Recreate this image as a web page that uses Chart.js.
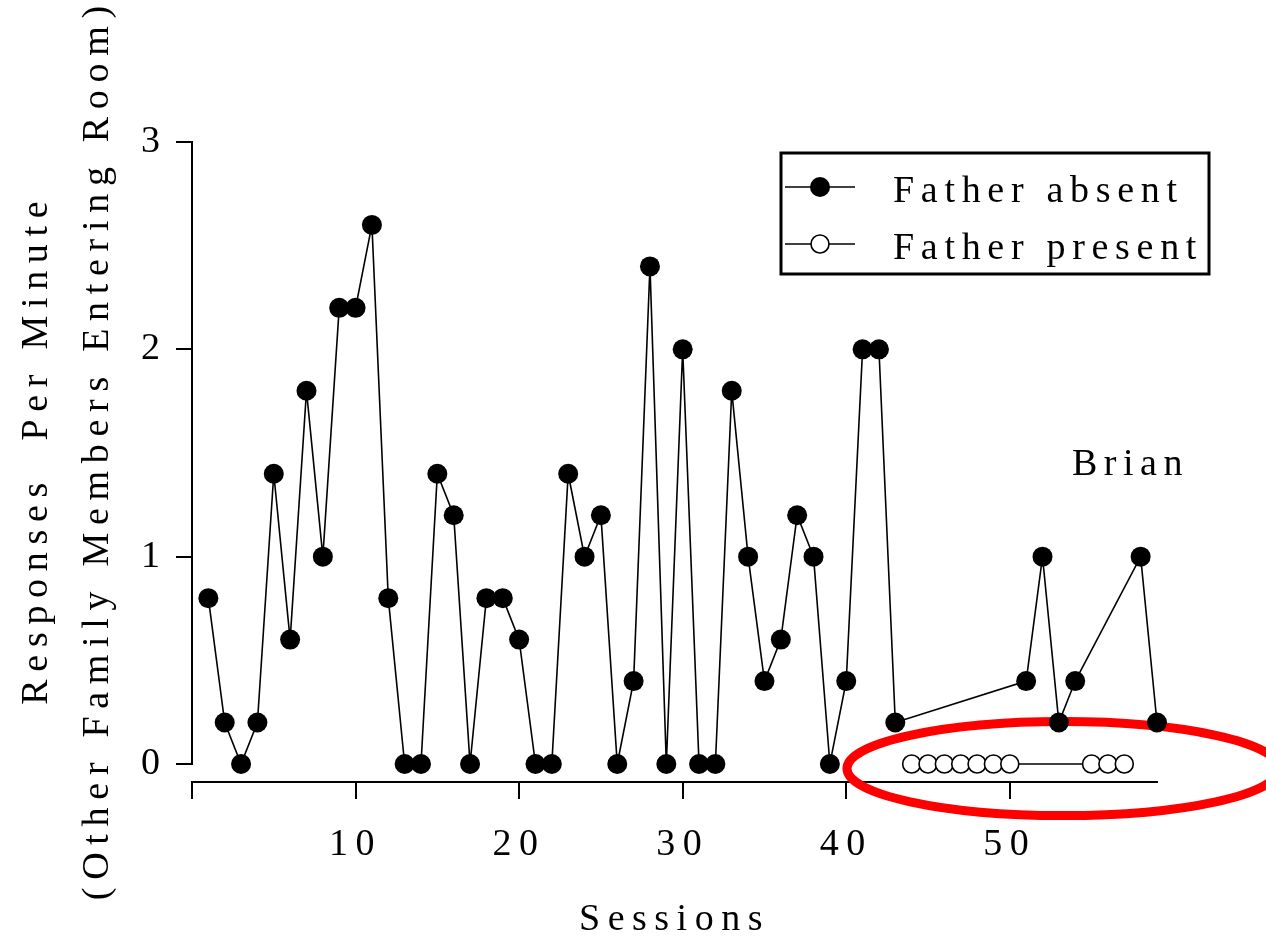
<!DOCTYPE html>
<html>
<head>
<meta charset="utf-8">
<script src="https://cdn.jsdelivr.net/npm/chart.js@4.4.1/dist/chart.umd.min.js"></script>
<style>
  html, body { margin: 0; padding: 0; background: #ffffff; }
  canvas { display: block; }
</style>
</head>
<body>
<canvas id="chart" width="1266" height="941"></canvas>
<script>
// Session numbers and response rates, one pair of arrays per condition
const absentSessions = [1, 2, 3, 4, 5, 6, 7, 8, 9, 10,
  11, 12, 13, 14, 15, 16, 17, 18, 19, 20,
  21, 22, 23, 24, 25, 26, 27, 28, 29, 30,
  31, 32, 33, 34, 35, 36, 37, 38, 39, 40,
  41, 42, 43, 51, 52, 53, 54, 58, 59];
const absentValues = [0.8, 0.2, 0, 0.2, 1.4, 0.6, 1.8, 1.0, 2.2, 2.2,
  2.6, 0.8, 0, 0, 1.4, 1.2, 0, 0.8, 0.8, 0.6,
  0, 0, 1.4, 1.0, 1.2, 0, 0.4, 2.4, 0, 2.0,
  0, 0, 1.8, 1.0, 0.4, 0.6, 1.2, 1.0, 0, 0.4,
  2.0, 2.0, 0.2, 0.4, 1.0, 0.2, 0.4, 1.0, 0.2];
const presentSessions = [44, 45, 46, 47, 48, 49, 50, 55, 56, 57];
const presentValues = [0, 0, 0, 0, 0, 0, 0, 0, 0, 0];

const seriesLabels = ['Father absent', 'Father present'];
const xTickValues = [0, 10, 20, 30, 40, 50];
const yTickValues = [0, 1, 2, 3];
const xTitle = 'Sessions';
const yTitleLines = ['Responses  Per Minute', '(Other Family Members Entering Room)'];
const subjectName = 'Brian';

const FAMILY = '"Liberation Serif", "Times New Roman", serif';
const FONT_SIZE = 38;
const SPACING = 7.5;

function toPoints(xs, ys) {
  return xs.map((x, i) => ({ x: x, y: ys[i] }));
}

// Width of a string as drawn with letter spacing (without the trailing gap)
function spacedWidth(ctx, text, spacing) {
  ctx.letterSpacing = '0px';
  const w = ctx.measureText(text).width + spacing * (text.length - 1);
  ctx.letterSpacing = spacing + 'px';
  return w;
}

function drawSpacedText(ctx, text, x, y, align, spacing) {
  const sp = spacing === undefined ? SPACING : spacing;
  ctx.save();
  ctx.font = FONT_SIZE + 'px ' + FAMILY;
  const w = spacedWidth(ctx, text, sp);
  ctx.letterSpacing = sp + 'px';
  ctx.textAlign = 'left';
  ctx.textBaseline = 'alphabetic';
  ctx.fillStyle = '#000';
  let sx = x;
  if (align === 'center') sx = x - w / 2;
  ctx.fillText(text, sx, y);
  ctx.restore();
}

const decorations = {
  id: 'decorations',
  beforeDraw(chart) {
    chart.ctx.letterSpacing = SPACING + 'px';
  },
  beforeDatasetsDraw(chart) {
    const ctx = chart.ctx;
    const xs = chart.scales.x, ys = chart.scales.y;
    // vertical axis line spanning the tick range only
    ctx.save();
    ctx.strokeStyle = '#000';
    ctx.lineWidth = 2;
    ctx.beginPath();
    ctx.moveTo(chart.chartArea.left, ys.getPixelForValue(yTickValues[yTickValues.length - 1]) - 1);
    ctx.lineTo(chart.chartArea.left, ys.getPixelForValue(yTickValues[0]) + 1);
    ctx.stroke();
    ctx.restore();

    // red ring around the father-present sessions
    ctx.save();
    ctx.strokeStyle = '#ff0000';
    ctx.lineWidth = 9;
    ctx.beginPath();
    ctx.ellipse(xs.getPixelForValue(53.25), ys.getPixelForValue(-0.022), 216, 47, 0, 0, Math.PI * 2);
    ctx.stroke();
    ctx.restore();
  },
  afterDraw(chart) {
    const ctx = chart.ctx;
    // rotated two-line axis title
    const titleBaselines = [47, 108];
    yTitleLines.forEach((line, i) => {
      ctx.save();
      ctx.translate(titleBaselines[i], 453);
      ctx.rotate(-Math.PI / 2);
      drawSpacedText(ctx, line, 0, 0, 'center', 7.7);
      ctx.restore();
    });

    drawSpacedText(ctx, subjectName, 1072, 475, 'left', 6.5);

    // legend box
    const box = { left: 781, top: 153, right: 1209, bottom: 274 };
    ctx.save();
    ctx.strokeStyle = '#000';
    ctx.lineWidth = 3;
    ctx.strokeRect(box.left, box.top, box.right - box.left, box.bottom - box.top);
    ctx.restore();

    const rows = [187, 244];
    chart.data.datasets.forEach((ds, i) => {
      const y = rows[i];
      ctx.save();
      ctx.strokeStyle = ds.borderColor;
      ctx.lineWidth = ds.borderWidth;
      ctx.beginPath();
      ctx.moveTo(785, y);
      ctx.lineTo(855, y);
      ctx.stroke();
      ctx.beginPath();
      ctx.arc(820, y, ds.pointRadius, 0, Math.PI * 2);
      ctx.fillStyle = ds.pointBackgroundColor;
      ctx.fill();
      if (ds.pointBorderWidth > 0) {
        ctx.lineWidth = ds.pointBorderWidth;
        ctx.strokeStyle = ds.pointBorderColor;
        ctx.stroke();
      }
      ctx.restore();
      drawSpacedText(ctx, ds.label, 893, y + 15, 'left', 6.7);
    });
  }
};

const tickFont = { family: FAMILY, size: FONT_SIZE };

new Chart(document.getElementById('chart'), {
  type: 'line',
  data: {
    datasets: [
      {
        label: seriesLabels[0],
        data: toPoints(absentSessions, absentValues),
        borderColor: '#000',
        borderWidth: 1.6,
        pointRadius: 10,
        pointBackgroundColor: '#000',
        pointBorderColor: '#000',
        pointBorderWidth: 0,
        tension: 0,
        clip: false
      },
      {
        label: seriesLabels[1],
        data: toPoints(presentSessions, presentValues),
        borderColor: '#000',
        borderWidth: 1.6,
        pointRadius: 9,
        pointBackgroundColor: '#fff',
        pointBorderColor: '#000',
        pointBorderWidth: 1.6,
        tension: 0,
        clip: false
      }
    ]
  },
  options: {
    responsive: false,
    animation: false,
    devicePixelRatio: 1,
    layout: { padding: { left: 0, top: 142, right: 109, bottom: 0 } },
    plugins: {
      legend: { display: false },
      tooltip: { enabled: false }
    },
    scales: {
      x: {
        type: 'linear',
        min: 0,
        max: 59,
        afterBuildTicks(s) { s.ticks = xTickValues.map(v => ({ value: v })); },
        afterFit(s) { s.height = 159; },
        ticks: {
          font: tickFont,
          color: '#000',
          padding: 23,
          maxRotation: 0,
          autoSkip: false,
          callback: v => (v === 0 ? '' : String(v))
        },
        grid: {
          display: true,
          drawOnChartArea: false,
          drawTicks: true,
          tickLength: 17,
          color: '#000',
          lineWidth: 2
        },
        border: { display: true, color: '#000', width: 2 },
        title: {
          display: true,
          text: xTitle,
          font: tickFont,
          color: '#000',
          padding: { top: 0, bottom: -2 }
        }
      },
      y: {
        type: 'linear',
        min: -0.0868,
        max: 3,
        afterBuildTicks(s) { s.ticks = yTickValues.map(v => ({ value: v })); },
        afterFit(s) { s.width = 192; },
        ticks: {
          font: tickFont,
          color: '#000',
          padding: 8.5,
          autoSkip: false,
          callback: v => String(v)
        },
        grid: {
          display: true,
          drawOnChartArea: false,
          drawTicks: true,
          tickLength: 16,
          color: '#000',
          lineWidth: 2
        },
        border: { display: false }
      }
    }
  },
  plugins: [decorations]
});
</script>
</body>
</html>
